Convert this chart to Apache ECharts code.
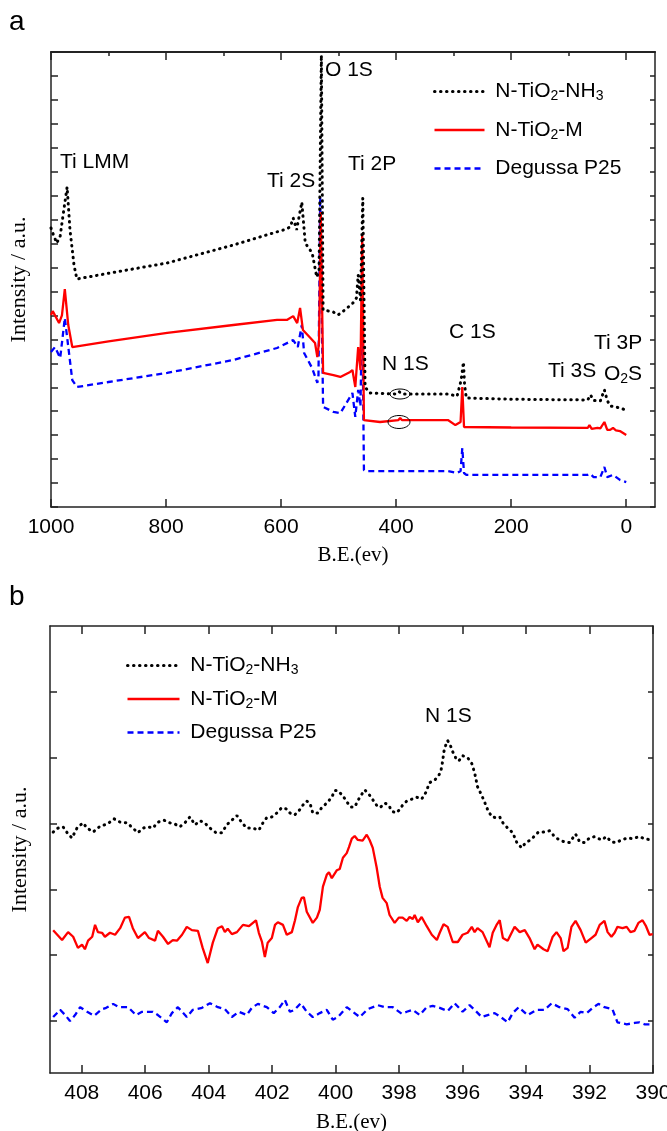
<!DOCTYPE html>
<html>
<head>
<meta charset="utf-8">
<title>XPS spectra</title>
<script src="https://cdn.jsdelivr.net/npm/echarts@6/dist/echarts.min.js"></script>
<style>
  body { margin: 0; background: #fff; }
  #xps { width: 667px; height: 1131px; }
</style>
</head>
<body>
<div id="xps"></div>
<script>
// series names (legend)
const seriesNames = ['N-TiO2-NH3', 'N-TiO2-M', 'Degussa P25'];

// (a) survey spectra, [B.E. eV, intensity a.u.]
const surveyNH3 = [
  [1000, 11.65], [997, 11.44], [990, 11.02], [984, 11.32], [979, 12.19], [972, 13.36], [967, 11.57], [960, 10.10], [955, 9.52],
  [900, 9.76], [798, 10.19], [683, 10.94], [596, 11.57], [584, 11.69], [579, 12.07], [573, 11.57], [564, 12.73], [558, 11.02],
  [546, 10.61], [538, 9.60], [534, 9.9], [530, 18.87], [527, 8.23], [509, 8.14], [501, 8.02], [489, 8.23], [475, 8.52],
  [469, 8.73], [466, 9.69], [462, 8.64], [458, 12.90], [455, 7.0], [454, 5.01], [446, 4.76],
  [400, 4.72], [395, 4.82], [390, 4.72], [310, 4.72], [294, 4.63], [287, 5.30], [283, 6.05], [281, 5.09], [278, 4.55],
  [200, 4.50], [67, 4.47], [62, 4.68], [57, 4.45], [54, 4.38], [45, 4.43], [38, 4.89], [33, 4.45], [28, 4.22], [18, 4.18], [0, 4.05]
];
const surveyM = [
  [1000, 8.02], [997, 8.18], [986, 7.68], [981, 8.0], [976, 9.10], [970, 7.60], [963, 6.68],
  [900, 6.92], [798, 7.27], [683, 7.60], [607, 7.81], [590, 7.81], [579, 7.97], [572, 7.68], [567, 8.31], [562, 7.39],
  [549, 7.06], [541, 6.85], [537, 6.26], [534, 6.9], [531, 12.32], [527, 5.60], [509, 5.51], [497, 5.43], [480, 5.64],
  [476, 5.72], [471, 5.01], [466, 6.68], [462, 5.72], [459, 11.36], [456, 3.63],
  [428, 3.55], [396, 3.63], [393, 3.72], [390, 3.63], [310, 3.63], [297, 3.42], [288, 3.55], [285, 5.01], [282, 3.34],
  [200, 3.32], [67, 3.30], [64, 3.42], [60, 3.26], [57, 3.26], [50, 3.30], [45, 3.28], [38, 3.55], [33, 3.22], [28, 3.22],
  [23, 3.30], [18, 3.20], [11, 3.17], [0, 3.01]
];
const surveyP25 = [
  [1000, 6.47], [993, 6.68], [984, 6.22], [976, 7.89], [963, 5.30], [955, 5.01],
  [900, 5.22], [798, 5.60], [683, 6.14], [607, 6.64], [579, 6.97], [571, 6.68], [564, 7.60], [560, 6.43], [546, 5.80],
  [537, 5.18], [535, 5.5], [532, 12.94], [527, 4.18], [509, 3.97], [497, 3.92], [476, 4.76], [471, 3.76], [466, 4.89],
  [462, 4.2], [459, 8.64], [456, 1.54], [450, 1.50], [310, 1.50], [294, 1.42], [288, 1.50], [285, 2.46], [282, 1.42], [278, 1.34],
  [200, 1.34], [67, 1.34], [62, 1.38], [57, 1.25], [54, 1.21], [45, 1.25], [38, 1.67], [33, 1.25], [23, 1.34], [11, 1.13], [0, 1.04]
];

// (b) N 1s region, [B.E. eV, intensity a.u.]
const n1sNH3 = [
  [408.90, 2.87], [408.75, 2.93], [408.59, 2.95], [408.46, 2.86], [408.31, 2.78], [408.15, 2.93], [407.96, 3.01], [407.83, 2.93],
  [407.64, 2.87], [407.42, 2.96], [407.20, 2.99], [406.98, 3.07], [406.79, 3.02], [406.57, 3.01], [406.39, 2.93], [406.23, 2.86],
  [406.07, 2.93], [405.91, 2.95], [405.76, 2.93], [405.60, 3.02], [405.41, 3.05], [405.22, 3.01], [405.06, 2.99], [404.91, 2.95],
  [404.75, 3.01], [404.59, 3.10], [404.43, 2.98], [404.28, 3.04], [404.15, 3.02], [403.96, 2.93], [403.77, 2.86], [403.58, 2.86],
  [403.43, 2.98], [403.27, 3.05], [403.11, 3.12], [402.95, 3.01], [402.80, 2.93], [402.61, 2.93], [402.42, 2.90], [402.29, 3.01],
  [402.17, 3.09], [402.01, 3.10], [401.85, 3.16], [401.70, 3.24], [401.54, 3.22], [401.44, 3.16], [401.29, 3.13], [401.13, 3.21],
  [401.03, 3.28], [400.91, 3.34], [400.81, 3.31], [400.72, 3.16], [400.56, 3.16], [400.44, 3.24], [400.28, 3.31], [400.12, 3.40],
  [400.03, 3.50], [399.93, 3.50], [399.77, 3.42], [399.65, 3.33], [399.52, 3.25], [399.40, 3.25], [399.24, 3.40], [399.08, 3.51],
  [398.93, 3.43], [398.80, 3.34], [398.67, 3.25], [398.58, 3.25], [398.45, 3.31], [398.33, 3.28], [398.23, 3.19], [398.11, 3.16],
  [397.98, 3.21], [397.89, 3.28], [397.76, 3.34], [397.60, 3.37], [397.45, 3.40], [397.29, 3.37], [397.16, 3.47], [397.04, 3.62],
  [396.88, 3.66], [396.78, 3.71], [396.69, 3.78], [396.63, 3.94], [396.59, 4.09], [396.53, 4.19], [396.47, 4.26], [396.38, 4.18],
  [396.31, 4.09], [396.22, 4.00], [396.12, 3.95], [396.00, 4.03], [395.84, 4.00], [395.71, 3.91], [395.62, 3.77], [395.53, 3.56],
  [395.40, 3.43], [395.31, 3.33], [395.21, 3.21], [395.08, 3.10], [394.96, 3.09], [394.83, 3.10], [394.73, 3.01], [394.58, 2.93],
  [394.42, 2.86], [394.29, 2.71], [394.14, 2.63], [394.01, 2.71], [393.86, 2.75], [393.73, 2.81], [393.61, 2.87], [393.45, 2.87],
  [393.26, 2.89], [393.10, 2.80], [392.95, 2.75], [392.79, 2.72], [392.63, 2.71], [392.44, 2.84], [392.31, 2.72], [392.16, 2.71],
  [392.00, 2.78], [391.84, 2.80], [391.62, 2.75], [391.47, 2.80], [391.31, 2.72], [391.15, 2.71], [391.00, 2.75], [390.80, 2.78],
  [390.65, 2.77], [390.43, 2.80], [390.27, 2.77], [390.05, 2.75]
];
const n1sM = [
  [408.90, 1.38], [408.62, 1.23], [408.43, 1.35], [408.27, 1.28], [408.12, 1.11], [407.99, 1.16], [407.90, 1.09], [407.80, 1.22],
  [407.67, 1.28], [407.58, 1.46], [407.49, 1.35], [407.36, 1.34], [407.27, 1.28], [407.11, 1.34], [406.95, 1.31], [406.79, 1.41],
  [406.64, 1.57], [406.51, 1.58], [406.39, 1.41], [406.23, 1.26], [406.01, 1.35], [405.88, 1.26], [405.69, 1.22], [405.60, 1.37],
  [405.44, 1.28], [405.28, 1.17], [405.13, 1.23], [405.00, 1.22], [404.84, 1.31], [404.69, 1.43], [404.53, 1.38], [404.34, 1.37],
  [404.19, 1.11], [404.03, 0.88], [403.87, 1.19], [403.71, 1.41], [403.58, 1.44], [403.49, 1.35], [403.40, 1.40], [403.27, 1.32],
  [403.11, 1.35], [402.92, 1.46], [402.73, 1.44], [402.51, 1.53], [402.42, 1.34], [402.32, 1.20], [402.23, 0.97], [402.14, 1.19],
  [402.01, 1.26], [401.91, 1.46], [401.82, 1.50], [401.66, 1.46], [401.54, 1.31], [401.38, 1.35], [401.28, 1.53], [401.19, 1.73],
  [401.07, 1.87], [401.00, 1.88], [400.91, 1.66], [400.72, 1.49], [400.59, 1.57], [400.50, 1.69], [400.40, 2.04], [400.28, 2.22],
  [400.21, 2.26], [400.12, 2.17], [399.96, 2.29], [399.87, 2.31], [399.77, 2.48], [399.65, 2.55], [399.58, 2.64], [399.49, 2.77],
  [399.40, 2.81], [399.30, 2.75], [399.15, 2.74], [399.02, 2.83], [398.93, 2.75], [398.83, 2.63], [398.71, 2.34], [398.61, 2.04],
  [398.52, 1.87], [398.39, 1.79], [398.30, 1.61], [398.14, 1.49], [398.01, 1.57], [397.89, 1.57], [397.76, 1.52], [397.67, 1.58],
  [397.57, 1.55], [397.51, 1.61], [397.41, 1.50], [397.29, 1.58], [397.13, 1.44], [396.97, 1.31], [396.81, 1.23], [396.72, 1.34],
  [396.60, 1.47], [396.47, 1.43], [396.31, 1.20], [396.15, 1.20], [396.00, 1.31], [395.84, 1.34], [395.71, 1.43], [395.62, 1.35],
  [395.53, 1.41], [395.37, 1.35], [395.15, 1.12], [395.05, 1.34], [394.93, 1.46], [394.83, 1.53], [394.73, 1.26], [394.58, 1.22],
  [394.36, 1.43], [394.20, 1.35], [394.04, 1.38], [393.89, 1.26], [393.73, 1.09], [393.64, 1.16], [393.45, 1.09], [393.32, 1.06],
  [393.16, 1.28], [393.04, 1.35], [392.91, 1.26], [392.82, 1.06], [392.69, 1.11], [392.57, 1.43], [392.44, 1.52], [392.28, 1.38],
  [392.12, 1.19], [391.94, 1.26], [391.81, 1.31], [391.68, 1.46], [391.53, 1.52], [391.43, 1.35], [391.31, 1.28], [391.21, 1.34],
  [391.12, 1.43], [390.96, 1.41], [390.83, 1.43], [390.71, 1.35], [390.58, 1.37], [390.46, 1.49], [390.33, 1.53], [390.22, 1.44],
  [390.11, 1.31], [390.01, 1.32]
];
const n1sP25 = [
  [408.90, 0.06], [408.68, 0.17], [408.52, 0.09], [408.37, 0.00], [408.21, 0.09], [408.05, 0.21], [407.83, 0.14], [407.61, 0.08],
  [407.36, 0.18], [407.23, 0.20], [407.01, 0.26], [406.83, 0.21], [406.54, 0.21], [406.29, 0.09], [406.10, 0.14], [405.94, 0.14],
  [405.76, 0.14], [405.60, 0.09], [405.32, -0.02], [405.16, 0.12], [404.97, 0.21], [404.69, 0.06], [404.50, 0.17], [404.21, 0.20],
  [403.96, 0.27], [403.71, 0.21], [403.49, 0.18], [403.27, 0.06], [403.05, 0.14], [402.80, 0.09], [402.64, 0.20], [402.45, 0.26],
  [402.17, 0.21], [401.95, 0.12], [401.76, 0.21], [401.60, 0.32], [401.44, 0.14], [401.29, 0.17], [401.10, 0.27], [400.91, 0.14],
  [400.72, 0.06], [400.50, 0.12], [400.28, 0.17], [400.09, 0.02], [399.93, 0.06], [399.65, 0.21], [399.46, 0.14], [399.24, 0.06],
  [398.99, 0.18], [398.67, 0.24], [398.45, 0.21], [398.20, 0.21], [397.92, 0.11], [397.76, 0.14], [397.57, 0.17], [397.35, 0.09],
  [397.13, 0.21], [396.94, 0.23], [396.72, 0.20], [396.47, 0.15], [396.25, 0.27], [396.00, 0.14], [395.78, 0.24], [395.62, 0.17],
  [395.40, 0.06], [395.21, 0.09], [394.99, 0.12], [394.77, 0.05], [394.58, -0.02], [394.42, 0.12], [394.23, 0.21], [393.95, 0.09],
  [393.67, 0.17], [393.42, 0.17], [393.19, 0.27], [392.95, 0.21], [392.69, 0.18], [392.47, 0.05], [392.28, 0.14], [392.09, 0.12],
  [391.90, 0.20], [391.72, 0.26], [391.53, 0.21], [391.28, 0.18], [391.12, -0.02], [390.83, -0.05], [390.58, -0.03], [390.43, -0.02],
  [390.27, -0.05], [390.11, -0.05]
];

// tick values
const surveyMajor = [0, 200, 400, 600, 800, 1000];
const surveyMinor = [100, 300, 500, 700, 900];
const n1sTicks = [390, 392, 394, 396, 398, 400, 402, 404, 406, 408];
const n1sYTicks = [0, 1, 2, 3, 4, 5];

const SANS = "'Liberation Sans', Arial, sans-serif";
const SERIF = "'Liberation Serif', 'Times New Roman', serif";
const AX = '#222';

const lineStyles = [
  { color: '#000', width: 3, type: [0.5, 5.5], cap: 'round' },
  { color: '#ff0000', width: 2.3, type: 'solid' },
  { color: '#0000ff', width: 2.3, type: [6, 4] }
];

const legendText = {
  'N-TiO2-NH3': '{t| N-TiO}{s|2}{t|-NH}{s|3}',
  'N-TiO2-M': '{t| N-TiO}{s|2}{t|-M}',
  'Degussa P25': '{t| Degussa P25}'
};
const richSub = {
  t: { fontSize: 21, fontFamily: SANS, color: '#000', lineHeight: 24 },
  s: { fontSize: 14, fontFamily: SANS, color: '#000', lineHeight: 12, verticalAlign: 'bottom' }
};

function xAx(grid, min, max, ticks, opts) {
  return Object.assign({
    type: 'value', gridIndex: grid, min: min, max: max, inverse: true,
    axisLine: { onZero: false, lineStyle: { color: AX, width: 1.5 } },
    axisTick: { inside: true, length: 8, customValues: ticks, lineStyle: { color: AX, width: 1.5 } },
    axisLabel: { show: false },
    splitLine: { show: false }
  }, opts);
}
function yAx(grid, min, max, opts) {
  return Object.assign({
    type: 'value', gridIndex: grid, min: min, max: max,
    axisLine: { onZero: false, lineStyle: { color: AX, width: 1.5 } },
    axisTick: { inside: true, length: 7, lineStyle: { color: AX, width: 1.5 } },
    axisLabel: { show: false },
    splitLine: { show: false }
  }, opts);
}
const labelStyle = (vals) => ({
  show: true, customValues: vals, fontSize: 21, fontFamily: SANS, color: '#000', margin: 10,
  formatter: (v) => String(v)
});
const nameStyle = { fontSize: 21, fontFamily: SERIF, color: '#000' };
const yNameStyle = { fontSize: 22, fontFamily: SERIF, color: '#000' };

function makeSeries(data, i, xi, yi) {
  return {
    name: seriesNames[i], type: 'line', data: data, xAxisIndex: xi, yAxisIndex: yi,
    symbol: 'none', lineStyle: lineStyles[i], itemStyle: { color: lineStyles[i].color },
    z: 3 - i, animation: false
  };
}

function txt(x, y, text, size, rich) {
  return {
    type: 'text', x: x, y: y, z: 100,
    style: { text: text, fontSize: size || 21, fontFamily: SANS, fill: '#000', verticalAlign: 'middle', align: 'left', rich: rich }
  };
}

const chart = echarts.init(document.getElementById('xps'));
chart.setOption({
  backgroundColor: '#fff',
  animation: false,
  grid: [
    { left: 51, top: 52, width: 604, height: 455, outerBoundsMode: 'none', containLabel: false },
    { left: 50, top: 626, width: 603, height: 447, outerBoundsMode: 'none', containLabel: false }
  ],
  xAxis: [
    xAx(0, -50, 1000, surveyMajor, {
      axisLabel: labelStyle(surveyMajor),
      name: 'B.E.(ev)', nameLocation: 'middle', nameGap: 38, nameTextStyle: nameStyle
    }),
    xAx(0, -50, 1000, surveyMinor, { axisTick: { inside: true, length: 4, customValues: surveyMinor, lineStyle: { color: AX, width: 1.5 } } }),
    xAx(0, -50, 1000, surveyMajor, { position: 'top' }),
    xAx(0, -50, 1000, surveyMinor, { position: 'top', axisTick: { inside: true, length: 4, customValues: surveyMinor, lineStyle: { color: AX, width: 1.5 } } }),
    xAx(1, 390, 409, n1sTicks, {
      axisLabel: labelStyle(n1sTicks),
      name: 'B.E.(ev)', nameLocation: 'middle', nameGap: 39, nameTextStyle: nameStyle
    }),
    xAx(1, 390, 409, n1sTicks, { position: 'top' })
  ],
  yAxis: [
    yAx(0, 0, 19, { interval: 1, name: 'Intensity / a.u.', nameLocation: 'middle', nameGap: 21, nameTextStyle: yNameStyle }),
    yAx(0, 0, 19, { interval: 1, position: 'right', axisTick: { inside: true, length: 5, lineStyle: { color: AX, width: 1.5 } } }),
    yAx(1, -0.79, 6, {
      axisTick: { inside: true, length: 7, customValues: n1sYTicks, lineStyle: { color: AX, width: 1.5 } },
      name: 'Intensity / a.u.', nameLocation: 'middle', nameGap: 19, nameTextStyle: yNameStyle
    }),
    yAx(1, -0.79, 6, {
      position: 'right',
      axisTick: { inside: true, length: 5, customValues: n1sYTicks, lineStyle: { color: AX, width: 1.5 } }
    })
  ],
  legend: [
    {
      left: 428, top: 76, orient: 'vertical', itemWidth: 50, itemHeight: 14, itemGap: 16,
      data: seriesNames, selectedMode: false, itemStyle: { opacity: 0 }, lineStyle: { width: 'inherit' },
      formatter: (n) => legendText[n], textStyle: { fontSize: 21, fontFamily: SANS, rich: richSub }
    },
    {
      left: 121, top: 650, orient: 'vertical', itemWidth: 52, itemHeight: 14, itemGap: 11,
      data: seriesNames, selectedMode: false, itemStyle: { opacity: 0 }, lineStyle: { width: 'inherit' },
      formatter: (n) => legendText[n], textStyle: { fontSize: 21, fontFamily: SANS, rich: richSub }
    }
  ],
  series: [
    makeSeries(surveyNH3, 0, 0, 0),
    makeSeries(surveyM, 1, 0, 0),
    makeSeries(surveyP25, 2, 0, 0),
    makeSeries(n1sNH3, 0, 4, 2),
    makeSeries(n1sM, 1, 4, 2),
    makeSeries(n1sP25, 2, 4, 2)
  ],
  graphic: [
    txt(9, 22, 'a', 28),
    txt(9, 597, 'b', 28),
    txt(60, 162, 'Ti LMM'),
    txt(267, 181, 'Ti 2S'),
    txt(325, 70, 'O 1S'),
    txt(348, 164, 'Ti 2P'),
    txt(382, 364, 'N 1S'),
    txt(449, 332, 'C 1S'),
    txt(548, 371, 'Ti 3S'),
    txt(594, 343, 'Ti 3P'),
    txt(604, 374, '{t|O}{s|2}{t|S}', 21, richSub),
    txt(425, 716, 'N 1S'),
    { type: 'ellipse', z: 100, shape: { cx: 400, cy: 394, rx: 10, ry: 5 }, style: { fill: 'none', stroke: '#000', lineWidth: 1 } },
    { type: 'ellipse', z: 100, shape: { cx: 399, cy: 422, rx: 11, ry: 6.5 }, style: { fill: 'none', stroke: '#000', lineWidth: 1 } }
  ]
});
</script>
</body>
</html>
